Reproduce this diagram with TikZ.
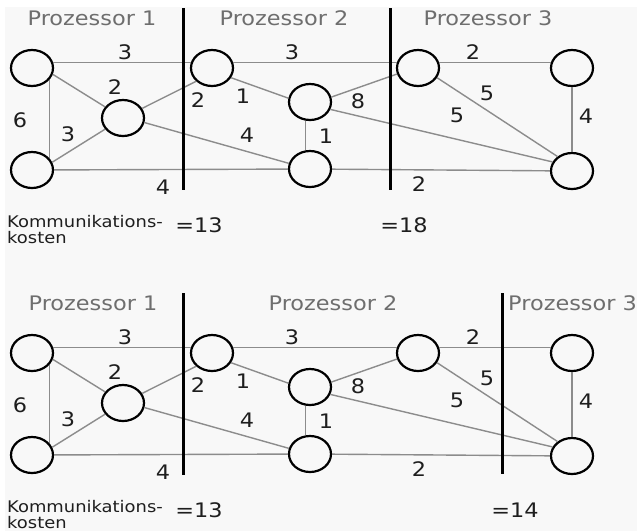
\documentclass[tikz,border=0pt]{standalone}
\usepackage{fontspec}
\setmainfont{DejaVu Sans}
\newfontfamily\widefont[FakeStretch=1.12]{DejaVu Sans}
\usetikzlibrary{shapes.geometric}
\definecolor{bgc}{HTML}{F8F8F8}
\definecolor{edgec}{HTML}{8C8C8C}
\definecolor{headc}{HTML}{6E6E6E}
\definecolor{txtc}{HTML}{1E1E1E}
\tikzset{
  vtx/.style={ellipse,draw=black,line width=2.2pt,minimum width=42pt,minimum height=36pt,inner sep=0pt},
  edg/.style={draw=edgec,line width=1.4pt},
  wlab/.style={font=\widefont\fontsize{20}{22}\selectfont,text=txtc,inner sep=0pt},
  head/.style={font=\widefont\fontsize{20}{22}\selectfont,text=headc,inner sep=0pt},
  cost/.style={font=\widefont\fontsize{16}{18}\selectfont,text=txtc,inner sep=0pt,anchor=base west},
  divider/.style={draw=black,line width=3pt}
}
\newcommand\drawgraph[1]{%
  \node[vtx] (#1A) at (32,68) {};
  \node[vtx] (#1B) at (32,170) {};
  \node[vtx] (#1C) at (123,118) {};
  \node[vtx] (#1D) at (212,68) {};
  \node[vtx] (#1E) at (310,102) {};
  \node[vtx] (#1F) at (310,169) {};
  \node[vtx] (#1G) at (418,68) {};
  \node[vtx] (#1H) at (572,68) {};
  \node[vtx] (#1I) at (572,171) {};
  \draw[edg] (#1A.14) -- (#1D.166);
  \draw[edg] (#1D.14) -- (#1G.166);
  \draw[edg] (#1G.14) -- (#1H.166);
  \draw[edg] (#1B) -- (#1F);
  \draw[edg] (#1F) -- (#1I);
  \draw[edg] (#1A.-34) -- (#1B.34);
  \draw[edg] (#1E.-103) -- (#1F.103);
  \draw[edg] (#1H) -- (#1I);
  \draw[edg] (#1A.-17) -- (#1C);
  \draw[edg] (#1B.21) -- (#1C);
  \draw[edg] (#1C) -- (#1D.-140);
  \draw[edg] (#1C.-12) -- (#1F.165);
  \draw[edg] (#1D.-27) -- (#1E.170);
  \draw[edg] (#1E.13) -- (#1G.-164);
  \draw[edg] (#1E.-20) -- (#1I.155);
  \draw[edg] (#1G.-27) -- (#1I.135);
  \node[wlab] (#1l1) at (125,52) {3};
  \node[wlab] (#1l2) at (115,87) {2};
  \node[wlab] (#1l3) at (20,120) {6};
  \node[wlab] (#1l4) at (68,134) {3};
  \node[wlab] (#1l5) at (163,187) {4};
  \node[wlab] (#1l6) at (198,100) {2};
  \node[wlab] (#1l7) at (243,96) {1};
  \node[wlab] (#1l8) at (247,135) {4};
  \node[wlab] (#1l9) at (292,52) {3};
  \node[wlab] (#1l10) at (358,101) {8};
  \node[wlab] (#1l11) at (326,136) {1};
  \node[wlab] (#1l12) at (473,52) {2};
  \node[wlab] (#1l13) at (487,93) {5};
  \node[wlab] (#1l14) at (457,115) {5};
  \node[wlab] (#1l15) at (586,116) {4};
  \node[wlab] (#1l16) at (419,184) {2};
  \node[cost] (#1k1) at (7,227) {Kommunikations-};
  \node[cost] (#1k2) at (7,243) {kosten};
  \node[wlab] (#1c1) at (199,225) {=13};
}
\begin{document}
\begin{tikzpicture}[x=1pt,y=-1pt]
\fill[white] (0,0) rectangle (637,531);
\fill[bgc] (5,7) rectangle (637,531);
\useasboundingbox (0,0) rectangle (637,531);
% top diagram
\begin{scope}
\drawgraph{t}
\draw[divider] (183,8) coordinate (td1a) -- (183,190) coordinate (td1b);
\draw[divider] (390,8) coordinate (td2a) -- (390,190) coordinate (td2b);
\node[head] (th1) at (92,18) {Prozessor 1};
\node[head] (th2) at (284,18) {Prozessor 2};
\node[head] (th3) at (488,18) {Prozessor 3};
\node[wlab] (tc2) at (404,225) {=18};
\end{scope}
% bottom diagram
\begin{scope}[shift={(0,285)}]
\drawgraph{b}
\draw[divider] (183,8) coordinate (bd1a) -- (183,190) coordinate (bd1b);
\draw[divider] (502,8) coordinate (bd2a) -- (502,189) coordinate (bd2b);
\node[head] (bh1) at (93,18.5) {Prozessor 1};
\node[head] (bh2) at (333,18.5) {Prozessor 2};
\node[head,anchor=west] (bh3) at (508,18.5) {Prozessor 3};
\node[wlab] (bc2) at (515,225) {=14};
\end{scope}
\end{tikzpicture}
\end{document}
